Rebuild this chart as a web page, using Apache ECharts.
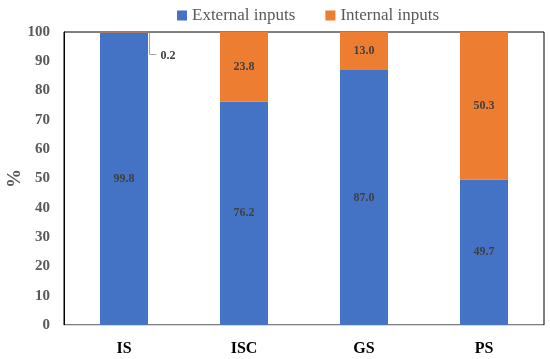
<!DOCTYPE html>
<html>
<head>
<meta charset="utf-8">
<script src="https://cdn.jsdelivr.net/npm/echarts@6/dist/echarts.min.js"></script>
<style>html,body{margin:0;padding:0;background:#fff}#c{width:550px;height:359px}</style>
</head>
<body>
<div id="c"></div>
<script>
var categories = ['IS', 'ISC', 'GS', 'PS'];
var externalInputs = [99.8, 76.2, 87.0, 49.7];
var internalInputs = [0.2, 23.8, 13.0, 50.3];
var yTicks = { min: 0, max: 100, interval: 10 };

var serif = '"Liberation Serif", "DejaVu Serif", serif';
var chart = echarts.init(document.getElementById('c'));
var labelStyle = {
  show: true, position: 'inside', color: '#404040', fontFamily: serif,
  fontWeight: 'bold', fontSize: 12,
  formatter: function (p) { return p.value.toFixed(1); }
};
chart.setOption({
  animation: false,
  legend: {
    top: 2, left: 172, itemWidth: 10, itemHeight: 10, itemGap: 30,
    icon: 'rect',
    textStyle: { fontFamily: serif, fontSize: 17, color: '#595959' },
    data: ['External inputs', 'Internal inputs']
  },
  grid: { left: 64, right: 6, top: 32, bottom: 34, containLabel: false, outerBoundsMode: 'none',
          show: true, borderColor: '#000', borderWidth: 1 },
  xAxis: {
    type: 'category', data: categories,
    axisLine: { lineStyle: { color: '#d9d9d9' } },
    axisTick: { show: false },
    axisLabel: { fontFamily: serif, fontWeight: 'bold', fontSize: 16, color: '#000', margin: 16 }
  },
  yAxis: {
    type: 'value', min: yTicks.min, max: yTicks.max, interval: yTicks.interval,
    name: '%', nameLocation: 'middle', nameGap: 39, nameMoveOverlap: false,
    nameTextStyle: { fontFamily: serif, fontWeight: 'bold', fontSize: 19, color: '#595959' },
    axisLine: { show: true, lineStyle: { color: '#000' } },
    axisTick: { show: false },
    splitLine: { show: false },
    axisLabel: { fontFamily: serif, fontWeight: 'bold', fontSize: 15, color: '#595959', margin: 14 }
  },
  series: [
    {
      name: 'External inputs', type: 'bar', stack: 'a', barWidth: '40%',
      itemStyle: { color: '#4472C4' }, label: labelStyle, data: externalInputs
    },
    {
      name: 'Internal inputs', type: 'bar', stack: 'a', barWidth: '40%',
      itemStyle: { color: '#ED7D31' }, label: labelStyle,
      data: internalInputs.map(function (v, i) {
        if (i === 0) return { value: v, label: { show: false } };
        return v;
      })
    }
  ]
});

// leader-line annotation for the tiny IS internal segment
var xAxisObj = chart.getModel().getComponent('xAxis', 0).axis;
var bw = xAxisObj.getBandWidth() * 0.4;
var cx = chart.convertToPixel({ xAxisIndex: 0 }, categories[0]);
var yTop = chart.convertToPixel({ yAxisIndex: 0 }, externalInputs[0] + internalInputs[0]);
var x0 = Math.round(cx + bw / 2) + 1.5;
var yEnd = Math.round(yTop + 22) + 0.5;
chart.setOption({
  graphic: [
    { type: 'polyline', shape: { points: [[x0, yTop + 1], [x0, yEnd], [x0 + 7, yEnd]] },
      style: { stroke: '#a6a6a6', lineWidth: 1, fill: null }, silent: true },
    { type: 'text', x: x0 + 11, y: yEnd + 1, silent: true,
      style: { text: internalInputs[0].toFixed(1), fill: '#404040', font: 'bold 12px ' + serif, textVerticalAlign: 'middle' } }
  ]
});
</script>
</body>
</html>
